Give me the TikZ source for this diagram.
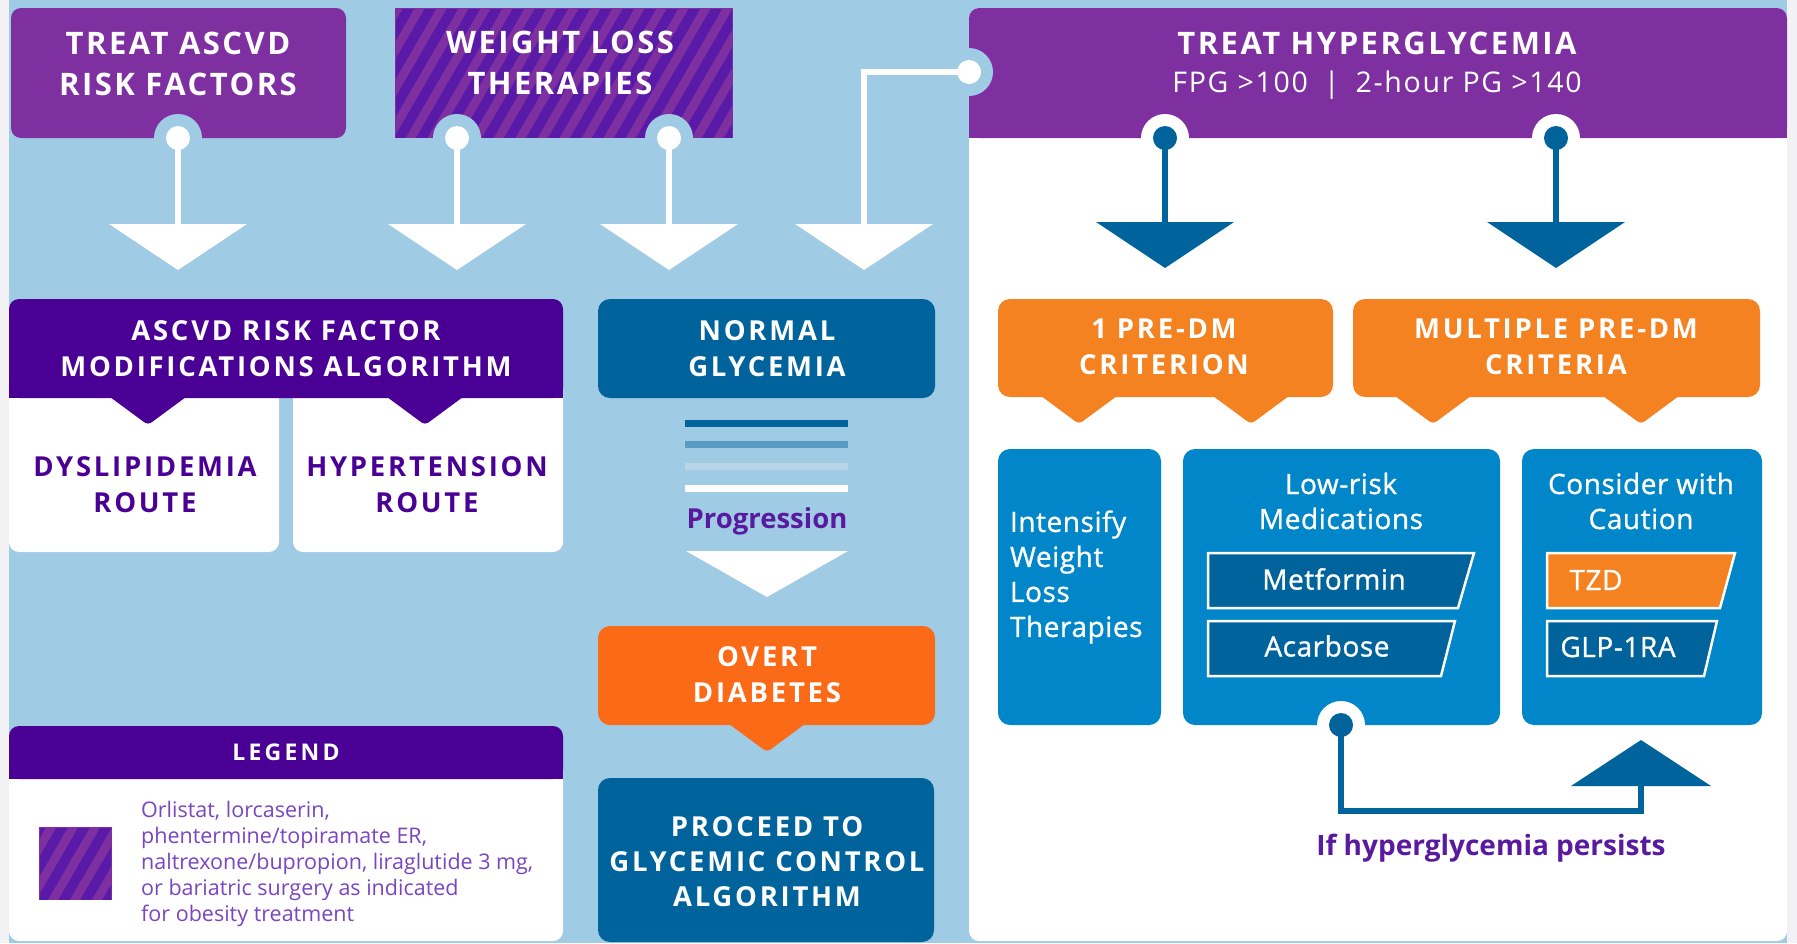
\documentclass[tikz,border=0pt]{standalone}
\usepackage{fontspec}
\setmainfont{Open Sans}
\newfontfamily\hdA{Open Sans}[LetterSpace=8]
\newfontfamily\hdB{Open Sans}[LetterSpace=10]
\newfontfamily\hdC{Open Sans}[LetterSpace=14]
\newfontfamily\hdF{Open Sans}[LetterSpace=6]
\newfontfamily\hdR{Open Sans}[LetterSpace=2,FakeBold=1]
\definecolor{bgblue}{HTML}{9FCBE5}
\definecolor{edgec}{HTML}{F2F2F4}
\definecolor{purA}{HTML}{7F30A0}
\definecolor{purS}{HTML}{5A1AA8}
\definecolor{purD}{HTML}{4A0095}
\definecolor{purT}{HTML}{5A1AA0}
\definecolor{purL}{HTML}{7A45C0}
\definecolor{dblue}{HTML}{00639C}
\definecolor{mblue}{HTML}{0086C9}
\definecolor{orgA}{HTML}{F58220}
\definecolor{orgB}{HTML}{FA6A17}
\definecolor{barB}{HTML}{5B9AC2}
\definecolor{barC}{HTML}{B8D5E7}
\begin{document}
\begin{tikzpicture}[x=1pt,y=-1pt,line join=miter,
  tx/.style={inner sep=0pt,outer sep=0pt,align=center,text=white},
  hdtop/.style={font=\hdA\bfseries\fontsize{31}{41}\selectfont},
  hdmid/.style={font=\hdB\bfseries\fontsize{27.5}{36}\selectfont},
  bodytxt/.style={font=\hdR\fontsize{28}{35}\selectfont},
  wline/.style={draw=white,line width=5.5pt},
  bline/.style={draw=dblue,line width=6pt},
  boxnode/.style={inner sep=0pt,outer sep=0pt,anchor=north west},
  medbox/.style={draw=white,line width=2.5pt},
  downtri/.pic={\fill (-69,0) -- (69,0) -- (0,46) -- cycle;},
  uptri/.pic={\fill (-70,0) -- (70,0) -- (0,-46) -- cycle;},
  tabtip/.pic={\fill[rounded corners=4pt] (-42,-4) -- (0,27) -- (42,-4) -- cycle;},
  ring/.pic={\fill (0,0) circle[radius=24pt];},
  dot/.pic={\fill (0,0) circle[radius=12pt];}
]
\useasboundingbox (0,0) rectangle (1797,943);
% background
\fill[edgec] (0,0) rectangle (1797,943);
\fill[bgblue] (9,0) rectangle (1787,943);
\node[boxnode,fill=white,rounded corners=10pt,minimum width=818pt,minimum height=933pt] (panel) at (969,8) {};

% ---------- top boxes
\node[boxnode,fill=purA,rounded corners=10pt,minimum width=335pt,minimum height=130pt] (bAscvd) at (11,8) {};
\node[tx,hdtop] (tAscvd) at (178,63.5) {TREAT ASCVD\\RISK FACTORS};

\node[boxnode,fill=purA,minimum width=338pt,minimum height=130pt] (bWeight) at (395,8) {};
\begin{scope}
  \clip (396,9) rectangle (732,137);
  \foreach \k in {-6,...,16} \draw[purS,line width=10pt] ({395+22*\k},146) -- ++(88,-152);
\end{scope}
\node[tx,hdtop] (tWeight) at (560,62.5) {WEIGHT LOSS\\THERAPIES};

\node[boxnode,fill=purA,rounded corners=10pt,minimum width=818pt,minimum height=130pt] (bHyper) at (969,8) {};
\fill[purA] (969,100) rectangle (1787,138);
\node[tx,anchor=base,font=\hdA\bfseries\fontsize{31}{41}\selectfont] (tHyper) at (1377,54) {TREAT HYPERGLYCEMIA};
\node[tx,anchor=base,font=\hdF\fontsize{28.5}{34}\selectfont] (tFPG) at (1377,92) {FPG >100\hspace{16pt}|\hspace{16pt}2-hour PG >140};

% ---------- ASCVD algorithm
\node[boxnode,fill=white,rounded corners=10pt,minimum width=270pt,minimum height=172pt] (bDys) at (9,380) {};
\node[boxnode,fill=white,rounded corners=10pt,minimum width=270pt,minimum height=172pt] (bHyp) at (293,380) {};
\node[boxnode,fill=purD,rounded corners=10pt,minimum width=554pt,minimum height=99pt] (bAlg) at (9,299) {};
\fill[purD] (9,370) rectangle (563,398);
\pic[fill=purD] at (148,398) {tabtip};
\pic[fill=purD] at (425,398) {tabtip};
\node[tx,hdmid] (tAlg) at (286,349) {ASCVD RISK FACTOR\\MODIFICATIONS ALGORITHM};
\node[tx,hdmid,text=purD] (tDys) at (145,484.5) {DYSLIPIDEMIA\\ROUTE};
\node[tx,hdmid,text=purD] (tHyp) at (427,484.5) {HYPERTENSION\\ROUTE};

% ---------- glycemia column
\node[boxnode,fill=dblue,rounded corners=12pt,minimum width=337pt,minimum height=99pt] (bNormal) at (598,299) {};
\node[tx,hdmid] (tNormal) at (767,348.5) {NORMAL\\GLYCEMIA};
\draw[dblue,line width=7pt] (685,423) -- (848,423);
\draw[barB,line width=7pt] (685,444) -- (848,444);
\draw[barC,line width=7pt] (685,466) -- (848,466);
\draw[white,line width=7pt] (685,488) -- (848,488);
\node[anchor=base,inner sep=0pt,text=purT,font=\bfseries\fontsize{27.5}{30}\selectfont] (tProg) at (767,528) {Progression};
\coordinate (pTri) at (767,551);
\fill[white] (686,551) -- (848,551) -- (767,597) -- cycle;

\node[boxnode,fill=orgB,rounded corners=12pt,minimum width=337pt,minimum height=99pt] (bOvert) at (598,626) {};
\pic[fill=orgB] at (767,725) {tabtip};
\node[tx,hdmid] (tOvert) at (767,674.5) {OVERT\\DIABETES};

\node[boxnode,fill=dblue,rounded corners=12pt,minimum width=336pt,minimum height=164pt] (bProceed) at (598,778) {};
\node[tx,font=\hdB\bfseries\fontsize{27.5}{35}\selectfont] (tProceed) at (767,862) {PROCEED TO\\GLYCEMIC CONTROL\\ALGORITHM};

% ---------- legend
\node[boxnode,fill=white,rounded corners=10pt,minimum width=554pt,minimum height=181pt] (bLegBody) at (9,760) {};
\node[boxnode,fill=purD,rounded corners=10pt,minimum width=554pt,minimum height=53pt] (bLegHead) at (9,726) {};
\fill[purD] (9,760) rectangle (563,779);
\node[tx,font=\hdC\bfseries\fontsize{23}{26}\selectfont] (tLeg) at (286,752) {LEGEND};
\node[boxnode,fill=purA,minimum size=73pt] (legSq) at (39,827) {};
\begin{scope}
  \clip (40,828) rectangle (111,899);
  \foreach \k in {-5,...,4} \draw[purS,line width=10pt] ({39+22*\k},905) -- ++(50,-86);
\end{scope}
\node[inner sep=0pt,anchor=north west,align=left,text=purL,font=\fontsize{21.5}{26}\selectfont] (tLegBody) at (141,801)
  {Orlistat, lorcaserin,\\phentermine/topiramate ER,\\naltrexone/bupropion, liraglutide 3 mg,\\or bariatric surgery as indicated\\for obesity treatment};

% ---------- right panel
\node[boxnode,fill=orgA,rounded corners=12pt,minimum width=335pt,minimum height=98pt] (b1pre) at (998,299) {};
\pic[fill=orgA] at (1079,397) {tabtip};
\pic[fill=orgA] at (1251,397) {tabtip};
\node[tx,hdmid] (t1pre) at (1164,346.5) {1 PRE-DM\\CRITERION};
\node[boxnode,fill=orgA,rounded corners=12pt,minimum width=407pt,minimum height=98pt] (bMult) at (1353,299) {};
\pic[fill=orgA] at (1433,397) {tabtip};
\pic[fill=orgA] at (1641,397) {tabtip};
\node[tx,hdmid] (tMult) at (1556,347) {MULTIPLE PRE-DM\\CRITERIA};

\node[boxnode,fill=mblue,rounded corners=12pt,minimum width=163pt,minimum height=276pt] (bInt) at (998,449) {};
\node[boxnode,fill=mblue,rounded corners=12pt,minimum width=317pt,minimum height=276pt] (bLow) at (1183,449) {};
\node[boxnode,fill=mblue,rounded corners=12pt,minimum width=240pt,minimum height=276pt] (bCons) at (1522,449) {};
\node[tx,bodytxt,align=left,anchor=north west] (tInt) at (1010,510.5) {Intensify\\Weight\\Loss\\Therapies};
\node[tx,bodytxt] (tLow) at (1341,501) {Low-risk\\Medications};
\node[tx,bodytxt] (tCons) at (1641,501) {Consider with\\Caution};

\fill[dblue,medbox] (1208,553) -- (1474,553) -- (1458,608) -- (1208,608) -- cycle;
\node[tx,bodytxt] (tMet) at (1334,579) {Metformin};
\fill[dblue,medbox] (1208,621) -- (1455,621) -- (1441,676) -- (1208,676) -- cycle;
\node[tx,bodytxt] (tAca) at (1327,646) {Acarbose};
\fill[orgA,medbox] (1547,553) -- (1735,553) -- (1720,608) -- (1547,608) -- cycle;
\node[tx,bodytxt] (tTzd) at (1596,580) {TZD};
\fill[dblue,medbox] (1547,621) -- (1717,621) -- (1704,676) -- (1547,676) -- cycle;
\node[tx,bodytxt] (tGlp) at (1618,647) {GLP-1RA};

% ---------- connectors (top, white)
\coordinate (dA) at (178,138);  \coordinate (tA) at (178,224);
\coordinate (dB) at (457,138);  \coordinate (tB) at (457,224);
\coordinate (dC) at (669,138);  \coordinate (tC) at (669,224);
\coordinate (dH) at (969,72);   \coordinate (tD) at (864,224);
\foreach \p in {dA,dB,dC,dH} {\pic[fill=bgblue] at (\p) {ring}; \pic[fill=white] at (\p) {dot};}
\draw[wline] (dA) -- (tA);
\draw[wline] (dB) -- (tB);
\draw[wline] (dC) -- (tC);
\draw[wline] (dH) -| (tD);
\foreach \p in {tA,tB,tC,tD} \pic[fill=white] at (\p) {downtri};

% ---------- connectors (hyperglycemia, dark blue)
\coordinate (dH1) at (1165,138); \coordinate (tH1) at (1165,222);
\coordinate (dH2) at (1556,138); \coordinate (tH2) at (1556,222);
\foreach \p in {dH1,dH2} {\pic[fill=white] at (\p) {ring}; \pic[fill=dblue] at (\p) {dot};}
\draw[bline] (dH1) -- (tH1);
\draw[bline] (dH2) -- (tH2);
\foreach \p in {tH1,tH2} \pic[fill=dblue] at (\p) {downtri};

% ---------- persist loop
\coordinate (dL) at (1341,725); \coordinate (cB) at (1641,811); \coordinate (tU) at (1641,786);
\pic[fill=white] at (dL) {ring}; \pic[fill=dblue] at (dL) {dot};
\draw[bline] (dL) |- (cB) -- (tU);
\pic[fill=dblue] at (tU) {uptri};
\node[anchor=base,inner sep=0pt,text=purT,font=\bfseries\fontsize{28}{30}\selectfont] (tPersist) at (1491,855) {If hyperglycemia persists};
\end{tikzpicture}
\end{document}
